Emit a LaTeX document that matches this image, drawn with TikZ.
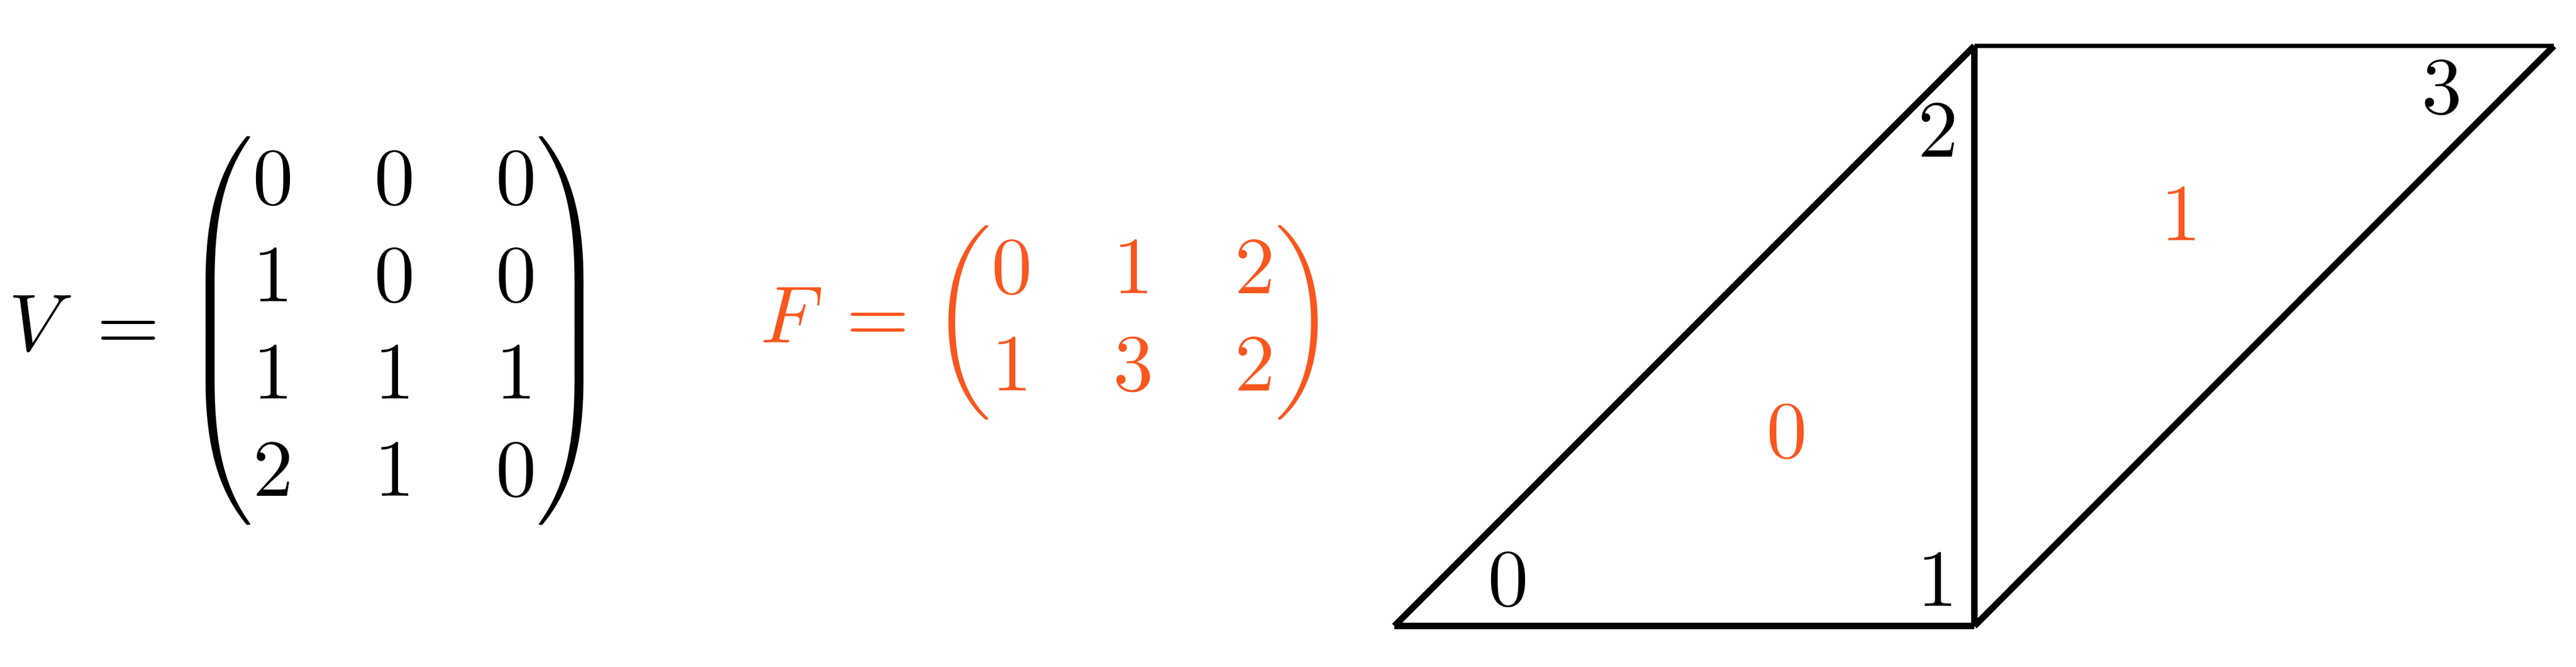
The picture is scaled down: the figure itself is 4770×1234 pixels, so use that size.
\documentclass[tikz,border=0pt]{standalone}
\usepackage{amsmath}
\definecolor{facecol}{RGB}{250,86,30}
\begin{document}
\begin{tikzpicture}[x=0.066667pt, y=-0.066667pt,
  edge/.style={line width=0.8pt, line cap=butt},
  thinedge/.style={line width=0.55pt, line cap=butt},
  vlabel/.style={inner sep=0pt},
  flabel/.style={inner sep=0pt, text=facecol}]
\useasboundingbox (0,0) rectangle (4770,1234);
% matrices
\node[inner sep=0pt] (Vmat) at (571,612)
  {$V = \begin{pmatrix}0&0&0\\1&0&0\\1&1&1\\2&1&0\end{pmatrix}$};
\node[inner sep=0pt, text=facecol] (Fmat) at (1940,597)
  {$F = \begin{pmatrix}0&1&2\\1&3&2\end{pmatrix}$};
% mesh vertices
\coordinate (v0) at (2582,1159);
\coordinate (v1) at (3656,1159);
\coordinate (v2) at (3656,85);
\coordinate (v3) at (4729,85);
% edges
\draw[edge] (v0) -- (v1);
\draw[edge] (v1) -- (v2);
\draw[edge] (v2) -- (v0);
\draw[edge] (v1) -- (v3);
\draw[thinedge] (v2) -- (v3);
% vertex labels
\node[vlabel] (l0) at (2793,1073) {$0$};
\node[vlabel] (l1) at (3588,1074) {$1$};
\node[vlabel] (l2) at (3589,242) {$2$};
\node[vlabel] (l3) at (4522,162) {$3$};
% face labels
\node[flabel] (f0) at (3309,799) {$0$};
\node[flabel] (f1) at (4039,397) {$1$};
\end{tikzpicture}
\end{document}
